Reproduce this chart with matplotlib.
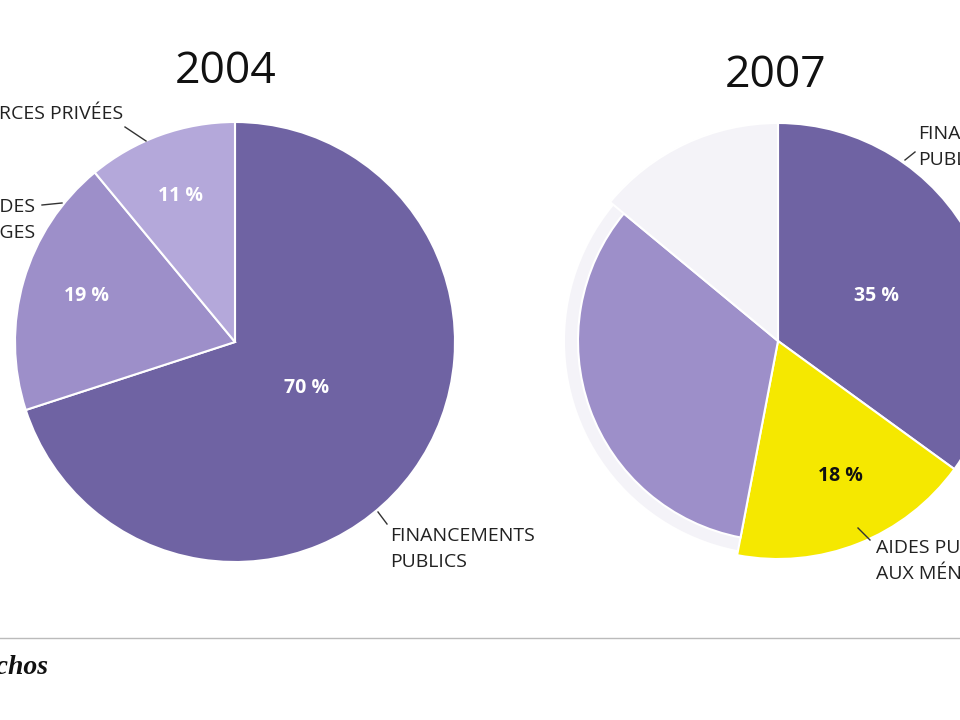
import matplotlib
matplotlib.use("Agg")
import matplotlib.pyplot as plt
from matplotlib.patches import Circle

labels_2004 = ["FINANCEMENTS PUBLICS", "CONTRIBUTION DES MÉNAGES", "SOURCES PRIVÉES"]
values_2004 = [70, 19, 11]
labels_2007 = ["FINANCEMENTS PUBLICS", "AIDES PUBLIQUES AUX MÉNAGES", "CONTRIBUTION DES MÉNAGES", "SOURCES PRIVÉES"]
values_2007 = [35, 18, 33, 14]

fig = plt.figure(figsize=(9.6, 7.2), dpi=100)
ax = fig.add_axes([0, 0, 1, 1])
ax.set_xlim(0, 960); ax.set_ylim(720, 0); ax.set_aspect('equal'); ax.axis('off')

# y axis is inverted: startangle=-90 is the top, counterclock=True runs clockwise on screen
c04 = ['#6f63a3', '#9d8fc9', '#b4a8da']
w, _ = ax.pie(values_2004, colors=c04, startangle=-90, counterclock=True,
              center=(235, 342), radius=220, wedgeprops=dict(edgecolor='white', linewidth=1.5))
for p in w: p.set_clip_on(False)

ax.add_patch(Circle((778, 341), 213, facecolor='#f4f3f8', edgecolor='none', zorder=0))
c07 = ['#6f63a3', '#f5e800', '#9d8fc9', '#f4f3f8']
w2, _ = ax.pie(values_2007, colors=c07, startangle=-90, counterclock=True,
               center=(778, 341), radius=218, wedgeprops=dict(edgecolor='white', linewidth=1.5))
w2[2].set_radius(200)
for p in w2: p.set_clip_on(False)
ax.set_xlim(0, 960); ax.set_ylim(720, 0)

fs = dict(fontfamily='Open Sans', fontsize=14, color='#222222')
ax.text(226, 72, "2004", ha='center', va='center', fontsize=32, fontfamily='Open Sans', color='#111')
ax.text(776, 76, "2007", ha='center', va='center', fontsize=32, fontfamily='Open Sans', color='#111')

pf = dict(fontfamily='Open Sans', fontsize=14, fontweight='bold', ha='center', va='center')
ax.text(307, 388, "70 %", color='white', **pf)
ax.text(87, 296, "19 %", color='white', **pf)
ax.text(181, 196, "11 %", color='white', **pf)
ax.text(877, 296, "35 %", color='white', **pf)
ax.text(840, 476, "18 %", color='#111', **pf)

ax.text(123, 114, "SOURCES PRIVÉES", ha='right', va='center', **fs)
ax.plot([125, 146], [127, 141], color='#333', lw=1)
ax.text(35, 220, "CONTRIBUTION DES\nMÉNAGES", ha='right', va='center', linespacing=1.6, **fs)
ax.plot([42, 62], [205, 203], color='#333', lw=1)
ax.text(390, 549, "FINANCEMENTS\nPUBLICS", ha='left', va='center', linespacing=1.6, **fs)
ax.plot([378, 387], [512, 524], color='#333', lw=1)
ax.text(918, 147, "FINANCEMENTS\nPUBLICS", ha='left', va='center', linespacing=1.6, **fs)
ax.plot([905, 915], [160, 152], color='#333', lw=1)
ax.text(876, 561, "AIDES PUBLIQUES\nAUX MÉNAGES", ha='left', va='center', linespacing=1.6, **fs)
ax.plot([858, 870], [528, 540], color='#333', lw=1)

ax.plot([0, 960], [638, 638], color='#bbbbbb', lw=1)
ax.text(48, 668, "Les Échos", ha='right', va='center', fontsize=20, fontfamily='Liberation Serif',
        fontstyle='italic', fontweight='bold', color='#111')
fig.savefig("out.png", dpi=100, facecolor='white')
